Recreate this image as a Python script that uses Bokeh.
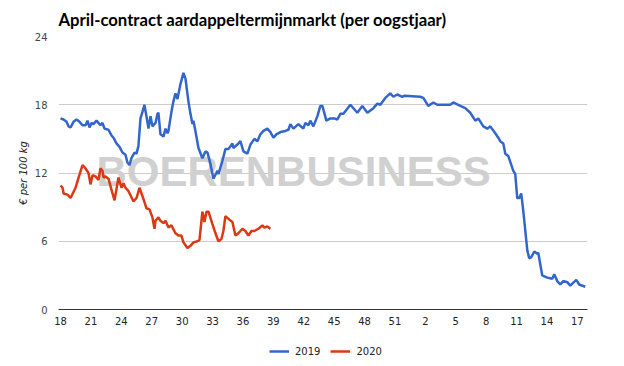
from bokeh.plotting import figure
from bokeh.layouts import column
from bokeh.models import Range1d, FixedTicker, Label, Legend, LegendItem, Title
from bokeh.embed import file_html
from bokeh.resources import INLINE

# Week labels (x positions are week offsets from week 18 of the harvest year)
tick_positions = list(range(0, 52, 3))
tick_labels = ["18", "21", "24", "27", "30", "33", "36", "39", "42", "45",
               "48", "51", "2", "5", "8", "11", "14", "17"]

# Series 2019 (week offset, € per 100 kg)
x2019 = [0.00, 0.30, 0.59, 0.79, 0.99, 1.28, 1.58, 1.87, 2.17, 2.47, 2.66, 2.86, 3.06, 3.25,
         3.55, 3.75, 3.94, 4.14, 4.34, 4.73, 5.03, 5.23, 5.52, 5.82, 6.11, 6.41, 6.61, 6.80,
         7.00, 7.30, 7.50, 7.69, 7.89, 8.09, 8.28, 8.48, 8.68, 8.88, 9.07, 9.37, 9.57, 9.66,
         9.86, 10.16, 10.36, 10.55, 10.65, 10.95, 11.14, 11.34, 11.54, 11.83, 12.13, 12.33,
         12.62, 12.82, 13.02, 13.12, 13.31, 13.61, 14.00, 14.30, 14.50, 14.79, 15.09, 15.48,
         15.58, 15.98, 16.27, 16.57, 16.96, 17.06, 17.46, 17.75, 18.05, 18.44, 18.74, 19.13,
         19.43, 19.72, 20.02, 20.41, 20.71, 21.01, 21.30, 21.70, 22.19, 22.49, 22.68, 22.98,
         23.47, 23.96, 24.16, 24.46, 24.65, 24.95, 25.35, 25.64, 25.84, 26.23, 26.63, 27.02,
         27.32, 27.61, 27.91, 28.60, 29.29, 29.78, 30.28, 30.87, 31.26, 31.56, 32.05, 32.54,
         32.84, 33.23, 33.73, 33.93, 35.50, 35.80, 36.29, 36.79, 37.18, 37.77, 38.46, 38.76,
         39.45, 39.94, 40.43, 40.93, 41.22, 41.72, 42.11, 42.41, 42.90, 43.20, 43.39, 43.69,
         43.89, 44.18, 44.67, 44.87, 45.07, 45.27, 45.46, 45.66, 46.06, 46.25, 46.45, 46.75,
         47.04, 47.14, 47.53, 48.03, 48.52, 48.72, 49.01, 49.31, 49.61, 50.00, 50.30, 50.89,
         51.18, 51.78]
y2019 = [16.8, 16.7, 16.5, 16.1, 16.0, 16.5, 16.7, 16.5, 16.2, 16.2, 16.6, 16.0, 16.4, 16.3,
         16.6, 16.4, 16.2, 16.4, 15.9, 15.8, 15.3, 15.1, 14.6, 14.3, 13.8, 13.6, 12.9, 12.7,
         13.3, 13.8, 13.7, 14.4, 16.8, 17.4, 18.0, 17.0, 15.9, 17.0, 16.1, 16.4, 17.2, 17.3,
         15.4, 15.2, 15.9, 15.5, 15.7, 17.4, 18.3, 19.0, 18.5, 19.8, 20.8, 20.3,
         18.3, 17.2, 16.3, 16.6, 15.7, 14.2, 13.3, 13.9, 13.8, 12.8, 11.5, 12.2,
         11.9, 13.1, 14.1, 14.1, 14.6, 14.2, 14.5, 14.8, 13.9, 13.7, 14.5, 15.0,
         14.8, 15.4, 15.7, 15.9, 15.6, 15.1, 15.4, 15.6, 15.7, 15.8, 16.3, 15.9,
         16.3, 15.9, 16.4, 16.2, 16.6, 16.1, 17.0, 17.9, 17.9, 16.6, 16.8, 16.8,
         16.7, 17.2, 17.2, 18.0, 17.3, 17.9, 17.3, 17.7, 18.1, 18.0, 18.6, 19.0,
         18.7, 18.9, 18.7, 18.8, 18.7, 18.6, 17.9, 18.2, 18.0, 18.0, 18.0, 18.2,
         17.9, 17.7, 17.3, 16.6, 16.8, 16.1, 15.9, 16.1, 15.5, 15.1, 14.8, 14.6,
         13.7, 13.5, 12.2, 11.9, 9.8, 9.8, 10.2, 8.7, 5.2, 4.5, 4.6, 5.1,
         4.9, 5.0, 3.0, 2.8, 2.7, 3.1, 2.5, 2.2, 2.5, 2.4, 2.1, 2.6,
         2.2, 2.0]

# Series 2020
x2020 = [0.00, 0.20, 0.30, 0.69, 0.99, 1.48, 1.78, 2.17, 2.47, 2.76, 2.96, 3.16, 3.45, 3.75,
         3.94, 4.14, 4.24, 4.44, 4.73, 5.13, 5.33, 5.72, 6.02, 6.21, 6.41, 6.71, 7.20, 7.50,
         7.79, 7.99, 8.19, 8.48, 8.78, 9.07, 9.27, 9.37, 9.66, 9.86, 10.16, 10.36, 10.65,
         10.95, 11.34, 11.64, 11.93, 12.13, 12.52, 12.82, 13.12, 13.51, 13.71, 14.00, 14.20,
         14.40, 14.60, 14.99, 15.29, 15.58, 15.88, 16.07, 16.27, 16.67, 16.96, 17.26, 17.55,
         17.95, 18.24, 18.54, 18.84, 19.13, 19.53, 19.92, 20.12, 20.41, 20.71]
y2020 = [10.9, 10.7, 10.2, 10.1, 9.8, 10.7, 11.6, 12.7, 12.4, 12.0, 11.0, 11.8, 11.7, 11.4,
         12.4, 12.2, 11.6, 11.7, 11.5, 10.2, 9.6, 11.6, 10.7, 11.1, 10.7, 10.4, 9.5, 9.8,
         10.7, 10.2, 9.7, 8.9, 8.8, 8.1, 7.1, 7.8, 8.1, 7.8, 7.6, 7.8, 7.2,
         7.4, 6.7, 6.5, 6.5, 5.9, 5.4, 5.6, 5.9, 6.0, 6.1, 8.6, 7.7,
         8.6, 8.6, 7.5, 6.7, 6.0, 6.2, 6.9, 8.2, 7.9, 7.7, 6.5, 6.7,
         7.1, 6.9, 6.5, 6.9, 6.9, 7.1, 7.4, 7.2, 7.3, 7.1]

series_names = ["2019", "2020"]
series_colors = ["#3366cc", "#dc3912"]

FONT = "DejaVu Sans"

p = figure(width=624, height=340, output_backend="svg", toolbar_location=None,
           x_range=Range1d(-0.2, 52.0), y_range=Range1d(0, 24),
           min_border_left=58, min_border_right=37, min_border_top=35, min_border_bottom=31)
p.outline_line_color = None
p.background_fill_color = "white"
p.border_fill_color = "white"

p.title = Title(text="April-contract aardappeltermijnmarkt (per oogstjaar)",
                text_font="Lato", text_font_size="16.7px", text_font_style="bold",
                text_color="#000000", offset=0, standoff=14)

# watermark
p.add_layout(Label(x=23.0, y=12.1, text="BOERENBUSINESS", text_align="center",
                   text_baseline="middle", text_font="Liberation Sans",
                   text_font_size="42px", text_font_style="bold",
                   text_color="#d0d0d0", level="underlay"))

r1 = p.line(x2019, y2019, line_color=series_colors[0], line_width=2.5)
r2 = p.line(x2020, y2020, line_color=series_colors[1], line_width=2.5)

p.xaxis.ticker = FixedTicker(ticks=tick_positions)
p.xaxis.major_label_overrides = {t: l for t, l in zip(tick_positions, tick_labels)}
p.xaxis.major_tick_line_color = None
p.xaxis.major_tick_out = 0
p.xaxis.minor_tick_line_color = None
p.xaxis.axis_line_color = "#333333"
p.xaxis.major_label_text_font = FONT
p.xaxis.major_label_text_font_size = "10px"
p.xaxis.major_label_text_color = "#222222"
p.xaxis.major_label_standoff = 7

p.yaxis.ticker = FixedTicker(ticks=[0, 6, 12, 18, 24])
p.yaxis.major_tick_line_color = None
p.yaxis.major_tick_out = 0
p.yaxis.minor_tick_line_color = None
p.yaxis.axis_line_color = None
p.yaxis.major_label_text_font = FONT
p.yaxis.major_label_text_font_size = "10px"
p.yaxis.major_label_text_color = "#444444"
p.yaxis.major_label_standoff = 11
p.yaxis.axis_label = "€ per 100 kg"
p.yaxis.axis_label_text_font = FONT
p.yaxis.axis_label_text_font_size = "10px"
p.yaxis.axis_label_text_font_style = "italic"
p.yaxis.axis_label_text_color = "#222222"
p.yaxis.axis_label_standoff = 3

p.xgrid.grid_line_color = None
p.ygrid.grid_line_color = "#cccccc"
p.ygrid.grid_line_width = 1

# legend strip below the chart (same series, shown only as legend keys)
lg = figure(width=624, height=26, output_backend="svg", toolbar_location=None,
            x_range=Range1d(0, 1), y_range=Range1d(0, 1),
            min_border_left=0, min_border_right=0, min_border_top=0, min_border_bottom=0)
lg.axis.visible = False
lg.grid.visible = False
lg.outline_line_color = None
k1 = lg.line(x2019, y2019, line_color=series_colors[0], line_width=2.5)
k2 = lg.line(x2020, y2020, line_color=series_colors[1], line_width=2.5)
legend = Legend(items=[LegendItem(label=series_names[0], renderers=[k1]),
                       LegendItem(label=series_names[1], renderers=[k2])],
                orientation="horizontal", location=(211, 9),
                border_line_color=None, background_fill_alpha=0,
                label_text_font=FONT, label_text_font_size="10px",
                label_text_color="#222222", glyph_width=20, glyph_height=12,
                spacing=10, padding=2, margin=0, label_standoff=6)
lg.add_layout(legend, "center")

page = column(p, lg, spacing=0)
open("out.html", "w").write(file_html(page, INLINE))
